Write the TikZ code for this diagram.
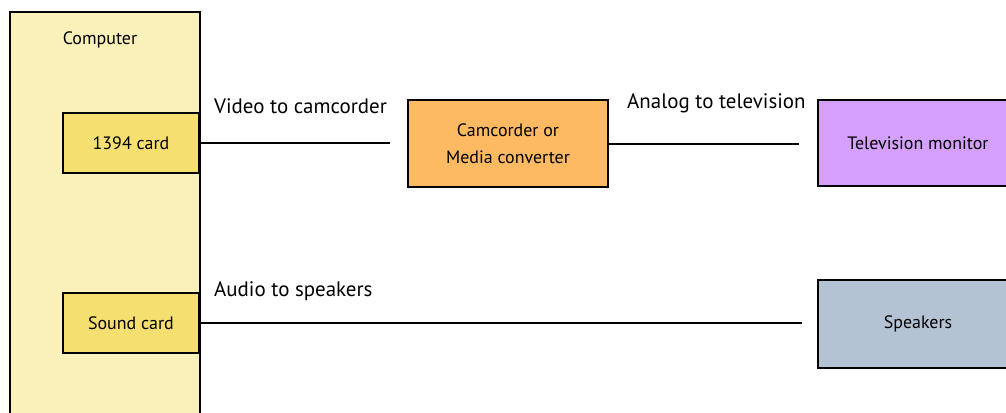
\documentclass[tikz,border=0pt]{standalone}
\usepackage{fontspec}
\setmainfont{PT Sans}
\definecolor{compfill}{HTML}{FAF0BA}
\definecolor{cardfill}{HTML}{F5DF70}
\definecolor{camfill}{HTML}{FDBA63}
\definecolor{tvfill}{HTML}{D4A0FC}
\definecolor{spkfill}{HTML}{B4C3D3}
\tikzset{
  box/.style={draw=black, line width=2bp, inner sep=0pt, anchor=north west, font=\fontsize{18}{21}\selectfont, align=center},
  wire/.style={draw=black, line width=2bp},
  lbl/.style={anchor=west, inner sep=0pt, font=\fontsize{21}{25}\selectfont}
}
\begin{document}
\begin{tikzpicture}[x=1bp,y=-1bp]
\useasboundingbox (0,0) rectangle (1006,412);
\begin{scope}
\clip (0,0) rectangle (1006,412);
\node[box, fill=compfill, minimum width=190bp, minimum height=420bp] (computer) at (9,11) {};
\node[font=\fontsize{18}{21}\selectfont, inner sep=0pt] (complbl) at (100,40) {Computer};
\node[box, fill=cardfill, minimum width=136bp, minimum height=60bp] (card) at (62,112) {1394 card};
\node[box, fill=cardfill, minimum width=136bp, minimum height=60bp] (sound) at (62,292) {Sound card};
\node[box, fill=camfill, minimum width=200bp, minimum height=87bp] (cam) at (407,99) {\raisebox{2pt}{Camcorder or}\\[4pt]Media converter};
\node[box, fill=tvfill, minimum width=200bp, minimum height=86bp] (tv) at (817,99) {Television monitor};
\node[box, fill=spkfill, minimum width=200bp, minimum height=88bp] (spk) at (817,279) {Speakers};
\coordinate (vend) at (390,142);
\coordinate (aend) at (799,142);
\coordinate (send) at (802,322);
\draw[wire] (card.east) -- (card.east -| vend);
\draw[wire] (cam.east) -- (cam.east -| aend);
\draw[wire] (sound.east) -- (sound.east -| send);
\node[lbl] (vlbl) at (214,106) {Video to camcorder};
\node[lbl] (albl) at (627,103) {Analog to television};
\node[lbl] (slbl) at (214,291) {Audio to speakers};
\end{scope}
\end{tikzpicture}
\end{document}
